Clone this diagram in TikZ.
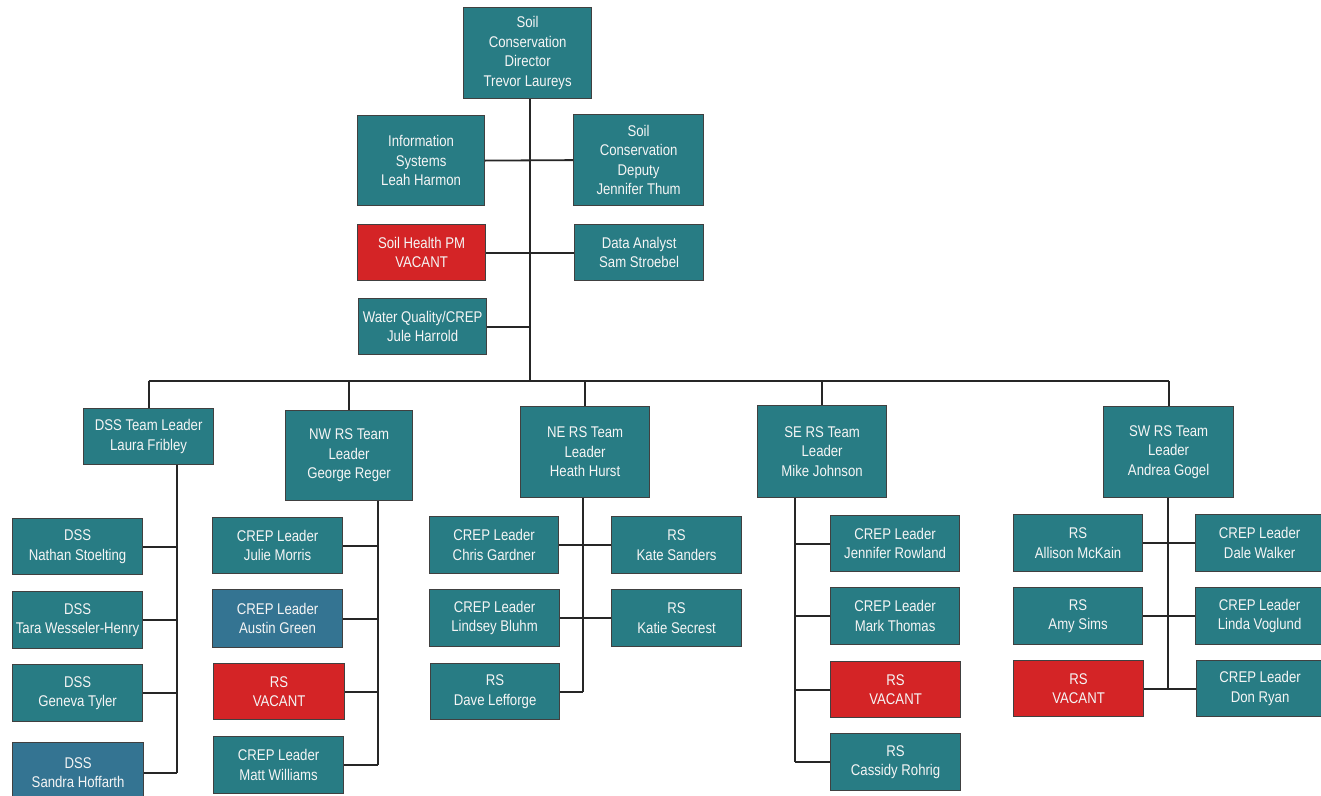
\documentclass[tikz,border=0pt]{standalone}
\usepackage{fontspec}
\setmainfont{Liberation Sans}[FakeStretch=0.85]
\definecolor{tealc}{RGB}{40,124,132}
\definecolor{bluec}{RGB}{52,116,146}
\definecolor{redc}{RGB}{212,36,38}
\tikzset{
  box/.style={draw=black!75, line width=1.2pt, fill=tealc, text=black!4, align=center,
    inner sep=0pt, font=\fontsize{15.5}{19.5}\selectfont, anchor=north west},
  vac/.style={fill=redc},
  blu/.style={fill=bluec},
  conn/.style={line width=1.8pt, draw=black!85}
}
\newcommand\ob[7][]{\node[box,#1,minimum width={(#5-#3)*1pt},minimum height={(#6-#4)*1pt}] (#2) at (#3,#4) {#7};}
\begin{document}
\begin{tikzpicture}[x=1pt,y=-1pt]
\useasboundingbox (0,0) rectangle (1321,795);
\fill[white] (0,0) rectangle (1321,795);
% coordinates
\coordinate (trunk) at (530,0);
\coordinate (bus) at (0,381);
\coordinate (dT) at (177,0);
\coordinate (wT1) at (378,0);
\coordinate (nT) at (583,0);
\coordinate (sT) at (795,0);
\coordinate (wT) at (1168,0);
% top
\ob{dir}{463}{7}{591}{98}{Soil\\Conservation\\Director\\Trevor Laureys}
\ob{info}{357}{115}{484}{205}{Information\\Systems\\Leah Harmon}
\ob{dep}{573}{114}{703}{205}{Soil\\Conservation\\Deputy\\Jennifer Thum}
\ob[vac]{shpm}{357}{224}{485}{280}{Soil Health PM\\VACANT}
\ob{data}{574}{224}{703}{280}{Data Analyst\\Sam Stroebel}
\ob{wq}{358}{298}{486}{354}{Water Quality/CREP\\Jule Harrold}
% leaders
\ob{dssl}{83}{408}{213}{464}{DSS Team Leader\\Laura Fribley}
\ob{nwl}{285}{410}{412}{500}{NW RS Team\\Leader\\George Reger}
\ob{nel}{520}{406}{649}{497}{NE RS Team\\Leader\\Heath Hurst}
\ob{sel}{757}{405}{886}{497}{SE RS Team\\Leader\\Mike Johnson}
\ob{swl}{1103}{406}{1233}{497}{SW RS Team\\Leader\\Andrea Gogel}
% DSS
\ob{nathan}{12}{518}{142}{574}{DSS\\Nathan Stoelting}
\ob{tara}{12}{591}{142}{648}{DSS\\Tara Wesseler-Henry}
\ob{geneva}{12}{664}{142}{721}{DSS\\Geneva Tyler}
\ob[blu]{sandra}{12}{742}{143}{802}{DSS\\Sandra Hoffarth}
% NW
\ob{julie}{212}{517}{342}{573}{CREP Leader\\Julie Morris}
\ob[blu]{austin}{212}{589}{342}{647}{CREP Leader\\Austin Green}
\ob[vac]{nwvac}{213}{663}{344}{719}{RS\\VACANT}
\ob{matt}{213}{736}{343}{793}{CREP Leader\\Matt Williams}
% NE
\ob{chris}{429}{516}{558}{573}{CREP Leader\\Chris Gardner}
\ob{kate}{611}{516}{741}{573}{RS\\Kate Sanders}
\ob{lindsey}{429}{589}{559}{646}{CREP Leader\\Lindsey Bluhm}
\ob{katie}{611}{589}{741}{646}{RS\\Katie Secrest}
\ob{dave}{430}{663}{559}{719}{RS\\Dave Lefforge}
% SE
\ob{jen}{830}{515}{959}{571}{CREP Leader\\Jennifer Rowland}
\ob{mark}{830}{587}{959}{644}{CREP Leader\\Mark Thomas}
\ob[vac]{sevac}{830}{661}{960}{717}{RS\\VACANT}
\ob{cassidy}{830}{733}{960}{790}{RS\\Cassidy Rohrig}
% SW
\ob{allison}{1013}{514}{1142}{571}{RS\\Allison McKain}
\ob{dale}{1195}{514}{1323}{571}{CREP Leader\\Dale Walker}
\ob{amy}{1013}{587}{1142}{644}{RS\\Amy Sims}
\ob{linda}{1195}{587}{1323}{644}{CREP Leader\\Linda Voglund}
\ob[vac]{swvac}{1013}{660}{1143}{716}{RS\\VACANT}
\ob{don}{1196}{660}{1323}{716}{CREP Leader\\Don Ryan}
% connectors top
\draw[conn] (trunk |- dir.south) -- (trunk |- bus);
\draw[conn] (info.east) -- (dep.west);
\draw[conn] (shpm.east) -- (data.west);
\draw[conn] (wq.east) -- (wq.east -| trunk);
\draw[conn] (dssl.north |- bus) -- (swl.north |- bus);
\foreach \n in {dssl,nwl,nel,sel,swl} \draw[conn] (\n.north) -- (\n.north |- bus);
% DSS
\draw[conn] (dT |- dssl.south) -- (dT |- sandra.east);
\foreach \n in {nathan,tara,geneva,sandra} \draw[conn] (\n.east) -- (\n.east -| dT);
% NW
\draw[conn] (wT1 |- nwl.south) -- (wT1 |- matt.east);
\foreach \n in {julie,austin,nwvac,matt} \draw[conn] (\n.east) -- (\n.east -| wT1);
% NE
\draw[conn] (nT |- nel.south) -- (nT |- dave.east);
\draw[conn] (chris.east) -- (kate.west);
\draw[conn] (lindsey.east) -- (katie.west);
\draw[conn] (dave.east) -- (dave.east -| nT);
% SE
\draw[conn] (sT |- sel.south) -- (sT |- cassidy.west);
\foreach \n in {jen,mark,sevac,cassidy} \draw[conn] (\n.west) -- (\n.west -| sT);
% SW
\draw[conn] (wT |- swl.south) -- (wT |- don.west);
\draw[conn] (allison.east) -- (dale.west);
\draw[conn] (amy.east) -- (linda.west);
\draw[conn] (swvac.east) -- (don.west);
\end{tikzpicture}
\end{document}
